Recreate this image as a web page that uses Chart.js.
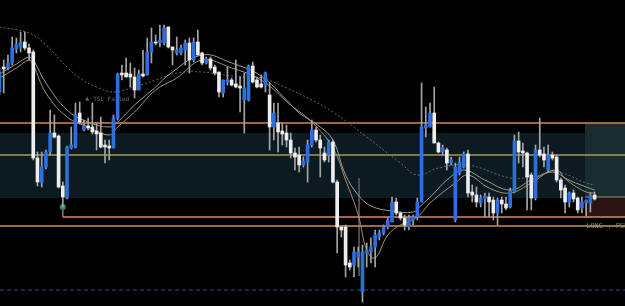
<!DOCTYPE html>
<html>
<head>
<meta charset="utf-8">
<script src="https://cdn.jsdelivr.net/npm/chart.js@4.4.0/dist/chart.umd.min.js"></script>
<style>
  html, body { margin: 0; padding: 0; background: #000; }
  canvas { display: block; }
</style>
</head>
<body>
<canvas id="chart" width="625" height="306"></canvas>
<script>
// price rows, the y axis is reversed (0 = top)
const open = [92, 67, 68, 63, 49, 47, 42, 48, 52, 158, 183, 167, 152, 133, 136, 186, 198, 148, 147, 113,
  130, 126, 127, 131, 133, 145, 146, 148, 118, 73, 73, 74, 77, 90, 74, 75, 52, 42, 43, 43,
  27, 47, 53, 53, 50, 43, 60, 42, 53, 63, 59, 67, 72, 93, 82, 80, 84, 86, 100, 100,
  66, 80, 84, 85, 95, 127, 123, 131, 133, 140, 153, 155, 165, 162, 145, 130, 140, 153, 155, 142,
  182, 227, 227, 263, 265, 257, 292, 253, 252, 247, 237, 233, 227, 222, 202, 213, 218, 227, 220, 217,
  202, 128, 127, 113, 143, 152, 150, 163, 220, 173, 167, 154, 192, 195, 203, 199, 197, 200, 213, 200,
  204, 207, 192, 141, 151, 153, 175, 198, 150, 154, 170, 155, 157, 180, 188, 202, 193, 198, 208, 203,
  203, 195];
const high = [68, 60, 55, 37, 38, 32, 32, 44, 50, 152, 152, 150, 110, 115, 135, 182, 146, 127, 103, 102,
  120, 118, 103, 123, 117, 140, 140, 115, 73, 65, 58, 63, 68, 70, 50, 38, 28, 35, 25, 25,
  27, 47, 37, 45, 40, 38, 38, 30, 52, 57, 57, 65, 72, 80, 67, 78, 60, 77, 73, 65,
  62, 77, 75, 72, 83, 103, 103, 123, 125, 133, 148, 147, 157, 140, 120, 127, 135, 147, 140, 140,
  180, 227, 225, 260, 247, 247, 245, 243, 238, 230, 230, 225, 218, 197, 198, 212, 215, 215, 215, 198,
  83, 107, 103, 87, 142, 145, 148, 157, 163, 157, 152, 150, 185, 187, 195, 193, 193, 197, 198, 197,
  197, 188, 135, 132, 143, 152, 173, 145, 118, 147, 145, 152, 155, 178, 185, 192, 190, 197, 197, 200,
  193, 192];
const low = [95, 93, 70, 65, 53, 52, 50, 60, 160, 186, 187, 169, 155, 138, 188, 207, 199, 149, 148, 124,
  131, 130, 134, 150, 148, 163, 160, 148, 120, 80, 77, 87, 98, 90, 77, 75, 63, 45, 47, 45,
  48, 65, 55, 55, 65, 73, 62, 55, 65, 64, 70, 75, 97, 97, 85, 86, 88, 112, 133, 101,
  83, 88, 88, 92, 150, 140, 152, 145, 147, 158, 170, 172, 167, 182, 147, 142, 177, 162, 162, 183,
  253, 237, 277, 270, 277, 267, 302, 267, 263, 267, 240, 235, 229, 222, 215, 220, 230, 230, 225, 220,
  202, 137, 127, 143, 153, 155, 170, 165, 222, 175, 168, 197, 202, 207, 207, 217, 217, 220, 225, 213,
  210, 208, 193, 163, 167, 210, 210, 200, 157, 167, 172, 160, 182, 198, 213, 207, 202, 213, 213, 216,
  212, 200];
const close = [72, 69, 63, 48, 44, 42, 48, 53, 158, 182, 167, 152, 133, 137, 187, 197, 147, 145, 115, 122,
  126, 128, 132, 134, 147, 147, 148, 118, 74, 75, 77, 77, 90, 74, 76, 52, 42, 43, 40, 28,
  47, 50, 50, 48, 43, 60, 42, 55, 63, 59, 68, 73, 92, 80, 80, 85, 87, 88, 88, 66,
  82, 87, 87, 73, 127, 113, 132, 134, 140, 153, 157, 165, 161, 145, 130, 140, 148, 160, 142, 182,
  227, 230, 265, 267, 252, 252, 252, 250, 247, 235, 233, 227, 220, 202, 213, 218, 225, 218, 217, 202,
  127, 125, 113, 143, 152, 148, 163, 160, 167, 162, 154, 193, 195, 202, 198, 196, 202, 213, 200, 204,
  208, 191, 141, 152, 153, 177, 198, 150, 155, 160, 155, 158, 180, 190, 202, 193, 199, 210, 202, 200,
  195, 199];
const bars = open.map((_, i) => i);

// moving averages, [bar, price]
const slowMA = [[0, 27], [7, 33], [11, 45], [16, 67], [19, 78], [23, 87], [27, 92], [31, 88], [37, 80],
  [42, 73], [48, 72], [55, 76], [62, 78], [68, 88], [74, 100], [79, 112], [87, 137], [95, 163],
  [99, 175], [104, 168], [111, 165], [121, 178], [126, 177], [132, 172], [139, 183], [141, 185]];
const midMA = [[0, 74], [4, 64], [7, 57], [8, 60], [11, 83], [16, 110], [21, 122], [26, 127], [28, 122],
  [32, 105], [37, 87], [40, 75], [48, 55], [55, 63], [62, 76], [68, 100], [71, 113], [76, 127],
  [79, 140], [82, 175], [85, 195], [88, 206], [93, 211], [98, 212], [100, 205], [103, 193],
  [106, 180], [110, 170], [115, 180], [121, 190], [126, 180], [132, 170], [134, 178], [139, 187], [141, 190]];
const fastMA = [[0, 78], [4, 68], [7, 60], [8, 65], [11, 93], [16, 117], [21, 127], [26, 135], [28, 127],
  [32, 112], [37, 90], [42, 78], [48, 60], [55, 68], [62, 80], [69, 105], [74, 122], [79, 148],
  [82, 180], [85, 215], [87, 250], [89, 258], [92, 235], [95, 225], [99, 217], [102, 203],
  [108, 183], [111, 175], [116, 188], [121, 193], [126, 183], [131, 172], [136, 185], [139, 192], [141, 193]];

const upperLevel = 123, midLevel = 155, stopLevel = 217, lowerLevel = 226, dashLevel = 290;
const zoneTop = 133, zoneBottom = 198;
const posStart = 138.7, posTarget = 123, posEntry = 197, posStop = 217;
const signalBar = 15, signalPrice = 207;
const notes = [[20.3, 99, 'TSL Failed'], [71.6, 176, 'TSL Failed'], [92, 193, 'TSL Failed']];

const xMin = 0.12, xMax = 148.2;
const blue = '#2d6fdc', white = '#eeeeee';

const pts = arr => arr.map(([b, p]) => ({ x: b, y: p }));
const hline = (p, x0 = xMin, x1 = xMax) => [{ x: x0, y: p }, { x: x1, y: p }];
const flat = { type: 'line', pointRadius: 0, borderWidth: 0, tension: 0 };

const notesPlugin = {
  id: 'notes',
  beforeDatasetsDraw(chart) {
    const { ctx, scales: { x, y } } = chart;
    ctx.save();
    ctx.textBaseline = 'middle';
    ctx.fillStyle = '#6e6e6e';
    notes.forEach(([b, p, t]) => {
      const px = x.getPixelForValue(b), py = y.getPixelForValue(p);
      ctx.font = '5px "DejaVu Sans"';
      ctx.fillText('\u25B2', px, py);
      ctx.font = '6px "DejaVu Sans Mono"';
      ctx.fillText(t, px + 8, py);
    });
    ctx.font = '7px "DejaVu Sans Mono"';
    ctx.fillStyle = '#5b9a6c';
    ctx.fillText('LONG . PSL', x.getPixelForValue(posStart + 0.3), y.getPixelForValue(226));
    ctx.restore();
  }
};

new Chart(document.getElementById('chart'), {
  type: 'bar',
  data: {
    datasets: [
      {
        type: 'bar', order: 1, grouped: false, barThickness: 3,
        data: bars.map(i => ({ x: i, y: [open[i], close[i]] })),
        backgroundColor: bars.map(i => close[i] < open[i] ? blue : white)
      },
      {
        type: 'bar', order: 2, grouped: false, barThickness: 1,
        data: bars.map(i => ({ x: i, y: [high[i], low[i]] })),
        backgroundColor: '#a5a5a5'
      },
      { type: 'line', order: 3, data: pts(fastMA), borderColor: '#a8926c', borderWidth: 1, pointRadius: 0, tension: 0.4 },
      { type: 'line', order: 3, data: pts(midMA), borderColor: '#9a9a9a', borderWidth: 1, pointRadius: 0, tension: 0.4 },
      { type: 'line', order: 3, data: pts(slowMA), borderColor: '#6a6a6a', borderWidth: 1, borderDash: [2, 2], pointRadius: 0, tension: 0.4 },
      { type: 'line', order: 3, data: [{ x: signalBar, y: signalPrice }], showLine: false, pointRadius: 3, backgroundColor: '#2f8f6f', borderWidth: 0 },
      { type: 'line', order: 4, data: hline(upperLevel), borderColor: '#d9874e', borderWidth: 1.5, pointRadius: 0 },
      { type: 'line', order: 4, data: hline(midLevel), borderColor: '#a89a5c', borderWidth: 1.5, pointRadius: 0 },
      { type: 'line', order: 4, data: hline(stopLevel, signalBar), borderColor: '#d98a6a', borderWidth: 1.5, pointRadius: 0 },
      { type: 'line', order: 4, data: [{ x: signalBar, y: signalPrice }, { x: signalBar, y: stopLevel }], borderColor: '#8a7060', borderWidth: 1, pointRadius: 0 },
      { type: 'line', order: 4, data: hline(lowerLevel), borderColor: '#cf8f57', borderWidth: 1.5, pointRadius: 0 },
      { type: 'line', order: 4, data: hline(dashLevel), borderColor: '#3e418c', borderWidth: 1, borderDash: [4, 3], pointRadius: 0 },
      { type: 'line', order: 4, data: [{ x: 85.2, y: 178 }, { x: 85.2, y: 276 }], borderColor: '#555555', borderWidth: 1, pointRadius: 0 },
      { type: 'line', order: 4, data: hline(posEntry, posStart), borderColor: '#8a8a8a', borderWidth: 1, pointRadius: 0 },
      { ...flat, order: 5, data: hline(posTarget, posStart), fill: { value: posEntry }, backgroundColor: '#192c2f' },
      { ...flat, order: 5, data: hline(posEntry, posStart), fill: { value: posStop }, backgroundColor: '#2a1411' },
      { ...flat, order: 6, data: hline(zoneTop, xMin, posStart), fill: { value: zoneBottom }, backgroundColor: '#0c1a21' }
    ]
  },
  options: {
    responsive: false,
    animation: false,
    events: [],
    layout: { padding: 0, autoPadding: false },
    plugins: { legend: { display: false }, tooltip: { enabled: false } },
    scales: {
      x: { type: 'linear', min: xMin, max: xMax, offset: false, display: false },
      y: { min: 0, max: 306, reverse: true, display: false }
    }
  },
  plugins: [notesPlugin]
});
</script>
</body>
</html>
